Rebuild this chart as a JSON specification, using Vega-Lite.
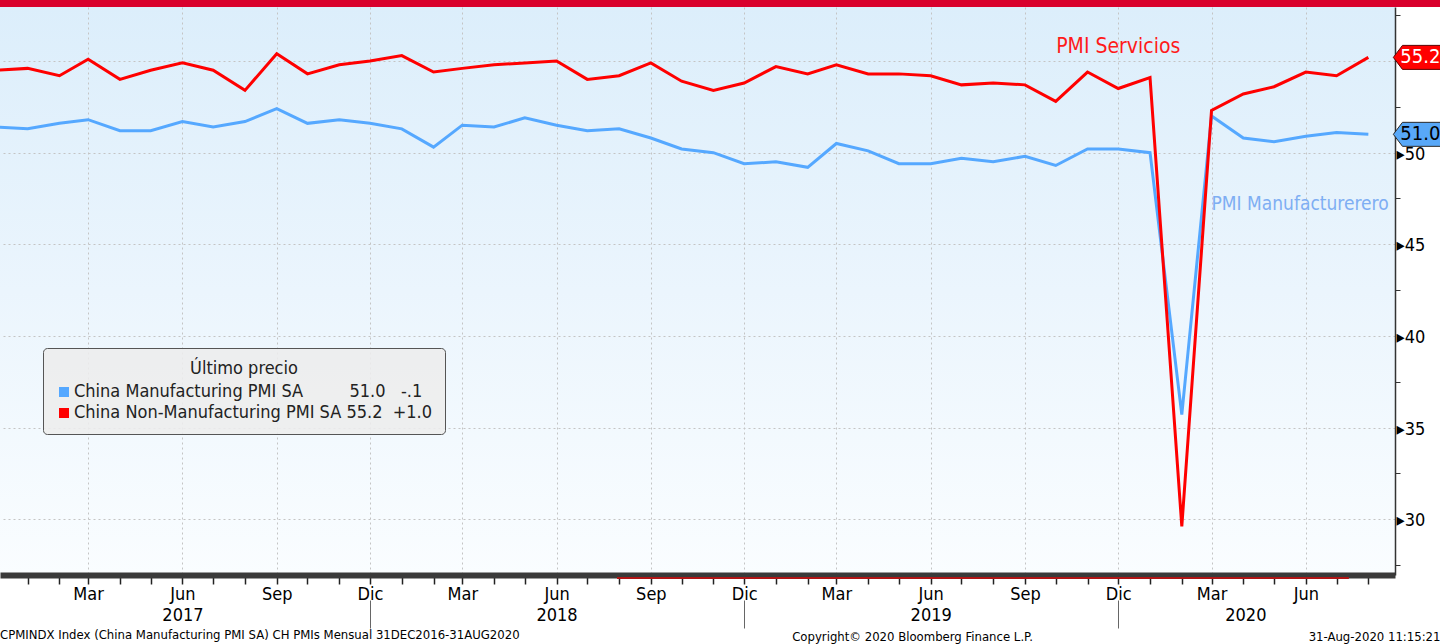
{
  "$schema": "https://vega.github.io/schema/vega-lite/v6.json",
  "width": 1395,
  "height": 568,
  "autosize": {"type": "none"},
  "padding": {"left": 0, "top": 7, "right": 45, "bottom": 69},
  "background": "#ffffff",
  "config": {
    "font": "DejaVu Sans Condensed, Liberation Sans Narrow, Roboto Condensed, DejaVu Sans, sans-serif",
    "view": {
      "stroke": null,
      "fill": {"gradient": "linear", "x1": 0, "y1": 0, "x2": 0, "y2": 1,
        "stops": [{"offset": 0, "color": "#DCEEFB"}, {"offset": 0.5, "color": "#EBF5FD"}, {"offset": 1, "color": "#FAFDFF"}]}
    }
  },
  "title": {
    "text": "CPMINDX Index (China Manufacturing PMI SA) CH PMIs  Mensual 31DEC2016-31AUG2020",
    "orient": "bottom", "anchor": "start", "frame": "group",
    "fontSize": 13, "fontWeight": "normal", "color": "#000000", "offset": 0, "dy": -14
  },
  "datasets": {
    "pmi": [
      {"date": "2016-12-01", "series": "China Manufacturing PMI SA", "value": 51.4},
      {"date": "2017-01-01", "series": "China Manufacturing PMI SA", "value": 51.3},
      {"date": "2017-02-01", "series": "China Manufacturing PMI SA", "value": 51.6},
      {"date": "2017-03-01", "series": "China Manufacturing PMI SA", "value": 51.8},
      {"date": "2017-04-01", "series": "China Manufacturing PMI SA", "value": 51.2},
      {"date": "2017-05-01", "series": "China Manufacturing PMI SA", "value": 51.2},
      {"date": "2017-06-01", "series": "China Manufacturing PMI SA", "value": 51.7},
      {"date": "2017-07-01", "series": "China Manufacturing PMI SA", "value": 51.4},
      {"date": "2017-08-01", "series": "China Manufacturing PMI SA", "value": 51.7},
      {"date": "2017-09-01", "series": "China Manufacturing PMI SA", "value": 52.4},
      {"date": "2017-10-01", "series": "China Manufacturing PMI SA", "value": 51.6},
      {"date": "2017-11-01", "series": "China Manufacturing PMI SA", "value": 51.8},
      {"date": "2017-12-01", "series": "China Manufacturing PMI SA", "value": 51.6},
      {"date": "2018-01-01", "series": "China Manufacturing PMI SA", "value": 51.3},
      {"date": "2018-02-01", "series": "China Manufacturing PMI SA", "value": 50.3},
      {"date": "2018-03-01", "series": "China Manufacturing PMI SA", "value": 51.5},
      {"date": "2018-04-01", "series": "China Manufacturing PMI SA", "value": 51.4},
      {"date": "2018-05-01", "series": "China Manufacturing PMI SA", "value": 51.9},
      {"date": "2018-06-01", "series": "China Manufacturing PMI SA", "value": 51.5},
      {"date": "2018-07-01", "series": "China Manufacturing PMI SA", "value": 51.2},
      {"date": "2018-08-01", "series": "China Manufacturing PMI SA", "value": 51.3},
      {"date": "2018-09-01", "series": "China Manufacturing PMI SA", "value": 50.8},
      {"date": "2018-10-01", "series": "China Manufacturing PMI SA", "value": 50.2},
      {"date": "2018-11-01", "series": "China Manufacturing PMI SA", "value": 50.0},
      {"date": "2018-12-01", "series": "China Manufacturing PMI SA", "value": 49.4},
      {"date": "2019-01-01", "series": "China Manufacturing PMI SA", "value": 49.5},
      {"date": "2019-02-01", "series": "China Manufacturing PMI SA", "value": 49.2},
      {"date": "2019-03-01", "series": "China Manufacturing PMI SA", "value": 50.5},
      {"date": "2019-04-01", "series": "China Manufacturing PMI SA", "value": 50.1},
      {"date": "2019-05-01", "series": "China Manufacturing PMI SA", "value": 49.4},
      {"date": "2019-06-01", "series": "China Manufacturing PMI SA", "value": 49.4},
      {"date": "2019-07-01", "series": "China Manufacturing PMI SA", "value": 49.7},
      {"date": "2019-08-01", "series": "China Manufacturing PMI SA", "value": 49.5},
      {"date": "2019-09-01", "series": "China Manufacturing PMI SA", "value": 49.8},
      {"date": "2019-10-01", "series": "China Manufacturing PMI SA", "value": 49.3},
      {"date": "2019-11-01", "series": "China Manufacturing PMI SA", "value": 50.2},
      {"date": "2019-12-01", "series": "China Manufacturing PMI SA", "value": 50.2},
      {"date": "2020-01-01", "series": "China Manufacturing PMI SA", "value": 50.0},
      {"date": "2020-02-01", "series": "China Manufacturing PMI SA", "value": 35.7},
      {"date": "2020-03-01", "series": "China Manufacturing PMI SA", "value": 52.0},
      {"date": "2020-04-01", "series": "China Manufacturing PMI SA", "value": 50.8},
      {"date": "2020-05-01", "series": "China Manufacturing PMI SA", "value": 50.6},
      {"date": "2020-06-01", "series": "China Manufacturing PMI SA", "value": 50.9},
      {"date": "2020-07-01", "series": "China Manufacturing PMI SA", "value": 51.1},
      {"date": "2020-08-01", "series": "China Manufacturing PMI SA", "value": 51.0},
      {"date": "2016-12-01", "series": "China Non-Manufacturing PMI SA", "value": 54.5},
      {"date": "2017-01-01", "series": "China Non-Manufacturing PMI SA", "value": 54.6},
      {"date": "2017-02-01", "series": "China Non-Manufacturing PMI SA", "value": 54.2},
      {"date": "2017-03-01", "series": "China Non-Manufacturing PMI SA", "value": 55.1},
      {"date": "2017-04-01", "series": "China Non-Manufacturing PMI SA", "value": 54.0},
      {"date": "2017-05-01", "series": "China Non-Manufacturing PMI SA", "value": 54.5},
      {"date": "2017-06-01", "series": "China Non-Manufacturing PMI SA", "value": 54.9},
      {"date": "2017-07-01", "series": "China Non-Manufacturing PMI SA", "value": 54.5},
      {"date": "2017-08-01", "series": "China Non-Manufacturing PMI SA", "value": 53.4},
      {"date": "2017-09-01", "series": "China Non-Manufacturing PMI SA", "value": 55.4},
      {"date": "2017-10-01", "series": "China Non-Manufacturing PMI SA", "value": 54.3},
      {"date": "2017-11-01", "series": "China Non-Manufacturing PMI SA", "value": 54.8},
      {"date": "2017-12-01", "series": "China Non-Manufacturing PMI SA", "value": 55.0},
      {"date": "2018-01-01", "series": "China Non-Manufacturing PMI SA", "value": 55.3},
      {"date": "2018-02-01", "series": "China Non-Manufacturing PMI SA", "value": 54.4},
      {"date": "2018-03-01", "series": "China Non-Manufacturing PMI SA", "value": 54.6},
      {"date": "2018-04-01", "series": "China Non-Manufacturing PMI SA", "value": 54.8},
      {"date": "2018-05-01", "series": "China Non-Manufacturing PMI SA", "value": 54.9},
      {"date": "2018-06-01", "series": "China Non-Manufacturing PMI SA", "value": 55.0},
      {"date": "2018-07-01", "series": "China Non-Manufacturing PMI SA", "value": 54.0},
      {"date": "2018-08-01", "series": "China Non-Manufacturing PMI SA", "value": 54.2},
      {"date": "2018-09-01", "series": "China Non-Manufacturing PMI SA", "value": 54.9},
      {"date": "2018-10-01", "series": "China Non-Manufacturing PMI SA", "value": 53.9},
      {"date": "2018-11-01", "series": "China Non-Manufacturing PMI SA", "value": 53.4},
      {"date": "2018-12-01", "series": "China Non-Manufacturing PMI SA", "value": 53.8},
      {"date": "2019-01-01", "series": "China Non-Manufacturing PMI SA", "value": 54.7},
      {"date": "2019-02-01", "series": "China Non-Manufacturing PMI SA", "value": 54.3},
      {"date": "2019-03-01", "series": "China Non-Manufacturing PMI SA", "value": 54.8},
      {"date": "2019-04-01", "series": "China Non-Manufacturing PMI SA", "value": 54.3},
      {"date": "2019-05-01", "series": "China Non-Manufacturing PMI SA", "value": 54.3},
      {"date": "2019-06-01", "series": "China Non-Manufacturing PMI SA", "value": 54.2},
      {"date": "2019-07-01", "series": "China Non-Manufacturing PMI SA", "value": 53.7},
      {"date": "2019-08-01", "series": "China Non-Manufacturing PMI SA", "value": 53.8},
      {"date": "2019-09-01", "series": "China Non-Manufacturing PMI SA", "value": 53.7},
      {"date": "2019-10-01", "series": "China Non-Manufacturing PMI SA", "value": 52.8},
      {"date": "2019-11-01", "series": "China Non-Manufacturing PMI SA", "value": 54.4},
      {"date": "2019-12-01", "series": "China Non-Manufacturing PMI SA", "value": 53.5},
      {"date": "2020-01-01", "series": "China Non-Manufacturing PMI SA", "value": 54.1},
      {"date": "2020-02-01", "series": "China Non-Manufacturing PMI SA", "value": 29.6},
      {"date": "2020-03-01", "series": "China Non-Manufacturing PMI SA", "value": 52.3},
      {"date": "2020-04-01", "series": "China Non-Manufacturing PMI SA", "value": 53.2},
      {"date": "2020-05-01", "series": "China Non-Manufacturing PMI SA", "value": 53.6},
      {"date": "2020-06-01", "series": "China Non-Manufacturing PMI SA", "value": 54.4},
      {"date": "2020-07-01", "series": "China Non-Manufacturing PMI SA", "value": 54.2},
      {"date": "2020-08-01", "series": "China Non-Manufacturing PMI SA", "value": 55.2}
    ]
  },
  "data": {"name": "pmi"},
  "resolve": {"axis": {"x": "independent"}},
  "layer": [
    {
      "mark": {"type": "line", "strokeWidth": 3, "clip": true},
      "encoding": {
        "x": {
          "field": "date", "type": "temporal",
          "scale": {"domain": [{"year": 2016, "month": 12, "date": 5}, {"year": 2020, "month": 8, "date": 27}]},
          "axis": {
            "orient": "bottom",
            "title": null,
            "tickCount": {"interval": "month", "step": 1},
            "labelExpr": "month(datum.value)==2 ? 'Mar' : month(datum.value)==5 ? 'Jun' : month(datum.value)==8 ? 'Sep' : month(datum.value)==11 ? 'Dic' : ''",
            "labelFontSize": 18, "labelColor": "#000000", "labelPadding": 1,
            "labelFlush": false, "labelOverlap": false, "labelBound": false,
            "tickSize": 9, "tickColor": "#222222", "tickWidth": 1.5,
            "domainColor": "#3A3A3A", "domainWidth": 6,
            "grid": true, "gridColor": "#C4C4C4", "gridDash": [2, 3], "gridWidth": 1,
            "gridOpacity": {"condition": {"test": "month(datum.value) % 3 == 2", "value": 1}, "value": 0}
          }
        },
        "y": {
          "field": "value", "type": "quantitative",
          "scale": {"domain": [26.95, 57.95], "nice": false, "zero": false},
          "axis": {
            "orient": "right",
            "title": "Copyright\u00a9 2020 Bloomberg Finance L.P.",
            "titleAngle": 0, "titleX": -483, "titleY": 629, "titleAlign": "center", "titleBaseline": "middle",
            "titleFontSize": 13, "titleFontWeight": "normal", "titleColor": "#000000",
            "values": [27.5, 30, 32.5, 35, 37.5, 40, 42.5, 45, 47.5, 50, 52.5, 55, 57.5],
            "labelExpr": "datum.value % 5 == 0 && datum.value != 55 ? '\u25b8' + datum.value : ''",
            "labelFontSize": 18, "labelColor": "#000000", "labelPadding": -4, "labelOffset": 1.5,
            "tickSize": 5, "tickColor": "#333333",
            "tickOpacity": {"condition": {"test": "datum.value % 5 == 0", "value": 0}, "value": 1},
            "domainColor": "#333333", "domainWidth": 1.5,
            "grid": true, "gridColor": "#C4C4C4", "gridDash": [2, 3], "gridWidth": 1,
            "gridOpacity": {"condition": {"test": "datum.value % 5 == 0", "value": 1}, "value": 0}
          }
        },
        "color": {
          "field": "series", "type": "nominal",
          "scale": {"domain": ["China Manufacturing PMI SA", "China Non-Manufacturing PMI SA"], "range": ["#55A8FF", "#FF0000"]},
          "legend": {
            "orient": "none", "legendX": 43, "legendY": 341,
            "title": "\u00daltimo precio", "titleFontSize": 18, "titleFontWeight": "normal", "titleColor": "#222222",
            "titleAnchor": "middle", "titlePadding": 5,
            "labelFontSize": 18, "labelColor": "#222222", "labelLimit": 600, "labelOffset": 1,
            "labelExpr": "datum.value == 'China Manufacturing PMI SA' ? datum.value + '\u00a0\u00a0\u00a0\u00a0\u00a0\u00a0\u00a0\u00a0\u00a051.0\u00a0\u00a0\u00a0-.1' : datum.value + '\u00a055.2\u00a0\u00a0+1.0'",
            "symbolType": "square", "symbolSize": 100, "symbolStrokeWidth": 0, "symbolOffset": 0,
            "rowPadding": 3,
            "fillColor": "rgba(237,237,237,0.88)", "strokeColor": "#555555", "cornerRadius": 4, "padding": 12,
            "encode": {"symbols": {"update": {"fill": {"signal": "scale('color', datum.value)"}, "strokeWidth": {"value": 0}, "opacity": {"value": 1}}}}
          }
        }
      }
    },
    {
      "data": {"values": [{"date": "2019-12-01", "value": 55.75, "label": "PMI Servicios"}]},
      "mark": {"type": "text", "color": "#FF1A1A", "fontSize": 21, "align": "center", "baseline": "middle"},
      "encoding": {
        "x": {
          "field": "date", "type": "temporal",
          "scale": {"domain": [{"year": 2016, "month": 12, "date": 5}, {"year": 2020, "month": 8, "date": 27}]},
          "axis": {
            "orient": "bottom",
            "title": "31-Aug-2020 11:15:21",
            "titleX": 1440, "titleY": 36, "titleAlign": "right", "titleBaseline": "middle", "titleAnchor": null,
            "titleFontSize": 13, "titleFontWeight": "normal", "titleColor": "#000000",
            "values": [
              {"year": 2017, "month": 6, "date": 1}, {"year": 2017, "month": 12, "date": 1},
              {"year": 2018, "month": 6, "date": 1}, {"year": 2018, "month": 12, "date": 1},
              {"year": 2019, "month": 6, "date": 1}, {"year": 2019, "month": 12, "date": 1},
              {"year": 2020, "month": 4, "date": 3}
            ],
            "labelExpr": "month(datum.value) == 11 ? '' : timeFormat(datum.value, '%Y')",
            "labelFontSize": 18, "labelColor": "#000000", "labelPadding": -22,
            "labelFlush": false, "labelOverlap": false, "labelBound": false,
            "tickSize": 28, "tickColor": "#666666", "tickWidth": 1,
            "tickOpacity": {"condition": {"test": "month(datum.value) == 11", "value": 1}, "value": 0},
            "domain": false, "grid": false, "offset": 25
          }
        },
        "y": {"field": "value", "type": "quantitative", "scale": {"domain": [26.95, 57.95], "nice": false, "zero": false}},
        "text": {"field": "label"}
      }
    },
    {
      "data": {"values": [{"date": "2020-03-01", "value": 47.2, "label": "PMI Manufacturerero"}]},
      "mark": {"type": "text", "color": "#7EAEF3", "fontSize": 19, "align": "left", "baseline": "middle"},
      "encoding": {
        "x": {"field": "date", "type": "temporal", "scale": {"domain": [{"year": 2016, "month": 12, "date": 5}, {"year": 2020, "month": 8, "date": 27}]}, "axis": null},
        "y": {"field": "value", "type": "quantitative", "scale": {"domain": [26.95, 57.95], "nice": false, "zero": false}},
        "text": {"field": "label"}
      }
    },
    {
      "transform": [{"filter": "utcyear(datum.date) == 2020 && utcmonth(datum.date) == 7"}],
      "mark": {"type": "point", "shape": "M -1 0 L -0.62 -0.5 L 1 -0.5 L 1 0.5 L -0.62 0.5 Z", "size": 2304, "filled": true, "opacity": 1, "strokeWidth": 1, "clip": false},
      "encoding": {
        "x": {"field": "date", "type": "temporal", "scale": {"domain": [{"year": 2016, "month": 12, "date": 5}, {"year": 2020, "month": 8, "date": 27}]}, "axis": null},
        "y": {"field": "value", "type": "quantitative", "scale": {"domain": [26.95, 57.95], "nice": false, "zero": false}},
        "xOffset": {"value": 49},
        "fill": {"condition": {"test": "datum.series == 'China Manufacturing PMI SA'", "value": "#58A8F8"}, "value": "#FF0000"},
        "stroke": {"condition": {"test": "datum.series == 'China Manufacturing PMI SA'", "value": "#2A2A2A"}, "value": "#5A0000"}
      }
    },
    {
      "transform": [{"filter": "utcyear(datum.date) == 2020 && utcmonth(datum.date) == 7"}],
      "mark": {"type": "text", "fontSize": 20, "align": "center", "baseline": "middle", "dx": 52, "clip": false},
      "encoding": {
        "x": {"field": "date", "type": "temporal", "scale": {"domain": [{"year": 2016, "month": 12, "date": 5}, {"year": 2020, "month": 8, "date": 27}]}, "axis": null},
        "y": {"field": "value", "type": "quantitative", "scale": {"domain": [26.95, 57.95], "nice": false, "zero": false}},
        "text": {"field": "value", "format": ".1f"},
        "fill": {"condition": {"test": "datum.series == 'China Manufacturing PMI SA'", "value": "#000000"}, "value": "#FFFFFF"}
      }
    },
    {
      "data": {"values": [{}]},
      "mark": {"type": "rect", "color": "#D9002C", "clip": false},
      "encoding": {
        "x": {"datum": {"year": 2016, "month": 12, "date": 5}, "type": "temporal", "scale": {"domain": [{"year": 2016, "month": 12, "date": 5}, {"year": 2020, "month": 8, "date": 27}]}, "axis": null},
        "x2": {"datum": {"year": 2020, "month": 10, "date": 25}},
        "y": {"datum": 57.95, "type": "quantitative", "scale": {"domain": [26.95, 57.95], "nice": false, "zero": false}},
        "y2": {"datum": 58.6}
      }
    },
    {
      "data": {"values": [{}]},
      "mark": {"type": "rule", "color": "#B01515", "strokeWidth": 2, "yOffset": 3, "clip": false},
      "encoding": {
        "x": {"datum": {"year": 2018, "month": 7, "date": 30}, "type": "temporal", "scale": {"domain": [{"year": 2016, "month": 12, "date": 5}, {"year": 2020, "month": 8, "date": 27}]}, "axis": null},
        "x2": {"datum": {"year": 2020, "month": 7, "date": 13}},
        "y": {"datum": 26.95, "type": "quantitative", "scale": {"domain": [26.95, 57.95], "nice": false, "zero": false}}
      }
    }
  ]
}
